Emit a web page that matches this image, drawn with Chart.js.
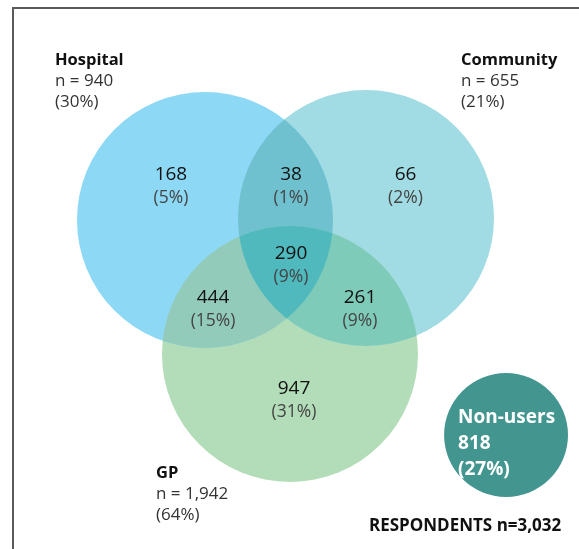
<!DOCTYPE html>
<html>
<head>
<meta charset="utf-8">
<script src="https://cdn.jsdelivr.net/npm/chart.js@4/dist/chart.umd.min.js"></script>
<style>
    html, body { margin: 0; padding: 0; background: #fff; }
    #wrap { position: relative; width: 579px; height: 549px; overflow: hidden; }
    #frame {
        position: absolute; left: 12px; top: 7px; right: -10px; bottom: -10px;
        border-top: 2px solid #5a5a5a; border-left: 2px solid #5a5a5a;
    }
    #venn { position: absolute; left: 0; top: 0; }
</style>
</head>
<body>
<div id="wrap">
    <div id="frame"></div>
    <canvas id="venn" width="579" height="549"></canvas>
</div>
<script>
// Service use among respondents
const setNames = ['Hospital', 'Community', 'GP'];
const setTotals = [940, 655, 1942];
const setShares = ['30%', '21%', '64%'];

// Venn regions: H only, H+C, C only, all three, H+GP, C+GP, GP only
const regionCounts = [168, 38, 66, 290, 444, 261, 947];
const regionShares = ['5%', '1%', '2%', '9%', '15%', '9%', '31%'];

const nonUserCount = 818;
const nonUserShare = '27%';
const respondentTotal = 3032;

// Layout in circle-radius units (y up)
const circleCentres = [[-0.629, -0.008], [0.629, 0.008], [0.035, -1.055]];
const circleRadius = 1;
const nonUserCentre = [1.723, -1.6875];
const nonUserRadius = 0.484;

const setLabelAnchors = [[-1.801, 1.242], [1.371, 1.242], [-1.012, -1.984]];
const regionLabelAnchors = [
    [-0.895, 0.344], [0.043, 0.344], [0.9375, 0.344],
    [0.043, -0.273], [-0.566, -0.617], [0.582, -0.617], [0.066, -1.328]
];
const nonUserLabelAnchor = [1.348, -1.555];
const respondentsAnchor = [0.652, -2.398];

const COLORS = {
    hospital: '#8dd8f5',
    community: '#a1dbe3',
    gp: '#b3ddb8',
    hospCom: '#6fc1cf',
    hospGp: '#93cbbb',
    comGp: '#7fcbb9',
    all: '#4fb9bd',
    nonUsers: '#439590'
};

const FONT = '"Open Sans", "Noto Sans", sans-serif';
const fmt = n => n.toLocaleString('en-US');

function unitToPx(chart, u) {
    const xs = chart.scales.x;
    return Math.abs(xs.getPixelForValue(u) - xs.getPixelForValue(0));
}

function circlePath(ctx, el) {
    ctx.beginPath();
    ctx.arc(el.x, el.y, el.options.radius, 0, Math.PI * 2);
}

// Paint the overlap regions on top of the three base circles
const overlapPlugin = {
    id: 'vennOverlaps',
    afterDatasetsDraw(chart) {
        const ctx = chart.ctx;
        const [h, c, g] = [0, 1, 2].map(i => chart.getDatasetMeta(i).data[0]);

        const pair = (a, b, color) => {
            ctx.save();
            circlePath(ctx, a);
            ctx.clip();
            circlePath(ctx, b);
            ctx.fillStyle = color;
            ctx.fill();
            ctx.restore();
        };
        pair(h, c, COLORS.hospCom);
        pair(h, g, COLORS.hospGp);
        pair(c, g, COLORS.comGp);

        ctx.save();
        circlePath(ctx, h);
        ctx.clip();
        circlePath(ctx, c);
        ctx.clip();
        circlePath(ctx, g);
        ctx.fillStyle = COLORS.all;
        ctx.fill();
        ctx.restore();
    }
};

// All the text: set captions, region counts, non-users, total
const labelPlugin = {
    id: 'vennLabels',
    afterDraw(chart) {
        const ctx = chart.ctx;
        const xs = chart.scales.x, ys = chart.scales.y;
        const px = a => [xs.getPixelForValue(a[0]), ys.getPixelForValue(a[1])];

        ctx.save();
        ctx.textBaseline = 'middle';

        // set captions
        ctx.textAlign = 'left';
        setNames.forEach((name, i) => {
            const [x, y] = px(setLabelAnchors[i]);
            ctx.fillStyle = '#111';
            ctx.font = 'bold 16.5px ' + FONT;
            ctx.fillText(name, x, y);
            ctx.fillStyle = '#333';
            ctx.font = '17px ' + FONT;
            ctx.fillText('n = ' + fmt(setTotals[i]), x, y + 21);
            ctx.fillText('(' + setShares[i] + ')', x, y + 42);
        });

        // region counts
        ctx.textAlign = 'center';
        regionCounts.forEach((count, i) => {
            const [x, y] = px(regionLabelAnchors[i]);
            ctx.fillStyle = '#111';
            ctx.font = '19px ' + FONT;
            ctx.fillText(fmt(count), x, y);
            ctx.fillStyle = '#444';
            ctx.font = '17.5px ' + FONT;
            ctx.fillText('(' + regionShares[i] + ')', x, y + 23);
        });

        // non-users
        ctx.textAlign = 'left';
        const [nx, ny] = px(nonUserLabelAnchor);
        ctx.fillStyle = '#fff';
        ctx.font = 'bold 19px ' + FONT;
        ctx.fillText('Non-users', nx, ny);
        ctx.fillText(fmt(nonUserCount), nx, ny + 26);
        ctx.fillText('(' + nonUserShare + ')', nx, ny + 52);

        // total
        const [rx, ry] = px(respondentsAnchor);
        ctx.fillStyle = '#111';
        ctx.font = 'bold 17px ' + FONT;
        ctx.fillText('RESPONDENTS n=' + fmt(respondentTotal), rx, ry);

        ctx.restore();
    }
};

function makeCircle(label, centre, r, color) {
    return {
        label: label,
        data: [{ x: centre[0], y: centre[1] }],
        showLine: false,
        pointStyle: 'circle',
        pointBackgroundColor: color,
        pointHoverBackgroundColor: color,
        pointBorderWidth: 0,
        pointHoverBorderWidth: 0,
        pointRadius: ctx => unitToPx(ctx.chart, r),
        pointHoverRadius: ctx => unitToPx(ctx.chart, r)
    };
}

new Chart(document.getElementById('venn'), {
    type: 'scatter',
    data: {
        datasets: [
            makeCircle(setNames[0], circleCentres[0], circleRadius, COLORS.hospital),
            makeCircle(setNames[1], circleCentres[1], circleRadius, COLORS.community),
            makeCircle(setNames[2], circleCentres[2], circleRadius, COLORS.gp),
            makeCircle('Non-users', nonUserCentre, nonUserRadius, COLORS.nonUsers)
        ]
    },
    options: {
        responsive: false,
        animation: false,
        events: [],
        clip: false,
        layout: { padding: 0 },
        plugins: {
            legend: { display: false },
            tooltip: { enabled: false }
        },
        scales: {
            x: { type: 'linear', display: false, min: -2.2305, max: 2.293 },
            y: { type: 'linear', display: false, min: -2.578, max: 1.711 }
        }
    },
    plugins: [overlapPlugin, labelPlugin]
});
</script>
</body>
</html>
